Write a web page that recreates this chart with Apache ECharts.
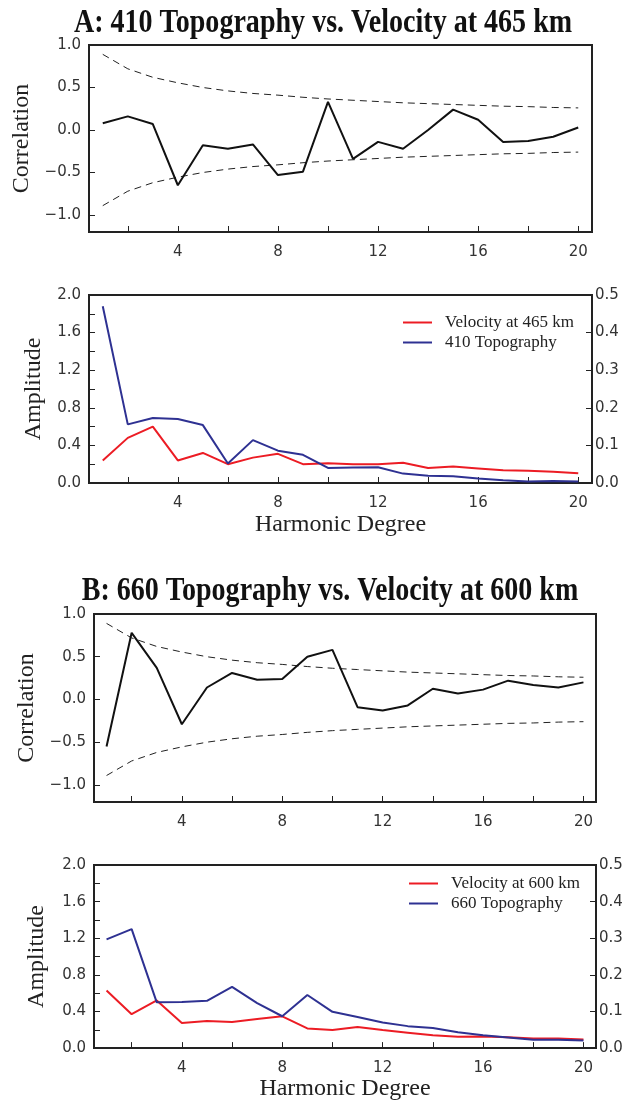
<!DOCTYPE html>
<html>
<head>
<meta charset="utf-8">
<script src="https://cdn.jsdelivr.net/npm/echarts@6/dist/echarts.min.js"></script>
<style>
html,body{margin:0;padding:0;background:#fff;}
#c{width:644px;height:1102px;}
</style>
</head>
<body>
<div id="c"></div>
<script>
// ---- data ----
const degrees = [1,2,3,4,5,6,7,8,9,10,11,12,13,14,15,16,17,18,19,20];
const xTicks = [2,4,6,8,10,12,14,16,18,20];
const xLabels = [4,8,12,16,20];
const corrTicks = [-1.0,-0.5,0.0,0.5,1.0];
const ampLeftTicks = [0,0.2,0.4,0.6,0.8,1.0,1.2,1.4,1.6,1.8,2.0];
const ampLeftLabels = [0,0.4,0.8,1.2,1.6,2.0];

const titleA = 'A: 410 Topography vs. Velocity at 465 km';
const titleB = 'B: 660 Topography vs. Velocity at 600 km';

const corrA = [0.08,0.16,0.07,-0.65,-0.18,-0.22,-0.17,-0.53,-0.49,0.33,-0.34,-0.14,-0.22,0.00,0.24,0.12,-0.14,-0.13,-0.08,0.03];
const corrB = [-0.55,0.78,0.37,-0.29,0.14,0.31,0.23,0.24,0.50,0.58,-0.09,-0.13,-0.07,0.125,0.07,0.115,0.22,0.17,0.14,0.20];
const boundUpper = [0.89,0.72,0.62,0.555,0.50,0.46,0.43,0.41,0.385,0.365,0.35,0.335,0.32,0.31,0.30,0.29,0.28,0.275,0.265,0.26];
const boundLower = [-0.89,-0.72,-0.62,-0.555,-0.50,-0.46,-0.43,-0.41,-0.385,-0.365,-0.35,-0.335,-0.32,-0.31,-0.30,-0.29,-0.28,-0.275,-0.265,-0.26];

const velNameA = 'Velocity at 465 km';
const topoNameA = '410 Topography';
const velA = [0.24,0.48,0.60,0.24,0.32,0.20,0.27,0.31,0.20,0.21,0.20,0.20,0.215,0.16,0.175,0.155,0.135,0.13,0.12,0.105];
const topoA = [0.47,0.156,0.173,0.17,0.154,0.052,0.114,0.086,0.075,0.040,0.041,0.042,0.025,0.019,0.018,0.012,0.007,0.004,0.005,0.004];

const velNameB = 'Velocity at 600 km';
const topoNameB = '660 Topography';
const velB = [0.63,0.37,0.52,0.275,0.297,0.286,0.318,0.347,0.215,0.197,0.23,0.197,0.168,0.14,0.125,0.128,0.118,0.104,0.104,0.093];
const topoB = [0.297,0.325,0.125,0.126,0.129,0.167,0.123,0.087,0.145,0.099,0.085,0.070,0.060,0.055,0.043,0.035,0.029,0.023,0.023,0.021];

// ---- helpers ----
const pairs = (ys) => degrees.map((d, i) => [d, ys[i]]);
const AX = '#222';
const LBL = {fontFamily: 'DejaVu Sans', fontSize: 15, color: '#333'};
const SERIF = '"Liberation Serif", "Times New Roman", serif';
const fmt1 = v => v.toFixed(1).replace('-', '\u2212');

function xAxis(grid, xmin, xmax, showName, nameGap) {
  return {
    type: 'value', gridIndex: grid, min: xmin, max: xmax,
    axisLine: {show: true, onZero: false, lineStyle: {color: AX, width: 2}},
    axisTick: {show: true, inside: true, length: 6, customValues: xTicks, lineStyle: {color: AX, width: 1}},
    axisLabel: Object.assign({customValues: xLabels, margin: 13}, LBL),
    splitLine: {show: false},
    name: showName ? 'Harmonic Degree' : '',
    nameLocation: 'middle', nameGap: nameGap,
    nameTextStyle: {fontFamily: SERIF, fontSize: 24, color: '#222'}
  };
}
function corrY(grid, nameGap) {
  return {
    type: 'value', gridIndex: grid, min: -1.2, max: 1.0,
    axisLine: {show: true, onZero: false, lineStyle: {color: AX, width: 2}},
    axisTick: {show: true, inside: true, length: 6, customValues: corrTicks, lineStyle: {color: AX, width: 1}},
    axisLabel: Object.assign({customValues: corrTicks, margin: 8, formatter: fmt1}, LBL),
    splitLine: {show: false},
    name: 'Correlation', nameLocation: 'middle', nameGap: nameGap,
    nameTextStyle: {fontFamily: SERIF, fontSize: 24, color: '#222'}
  };
}
function ampLeft(grid, nameGap) {
  return {
    type: 'value', gridIndex: grid, min: 0, max: 2.0,
    axisLine: {show: true, onZero: false, lineStyle: {color: AX, width: 2}},
    axisTick: {show: true, inside: true, length: 6, customValues: ampLeftTicks, lineStyle: {color: AX, width: 1}},
    axisLabel: Object.assign({customValues: ampLeftLabels, margin: 8, formatter: fmt1}, LBL),
    splitLine: {show: false},
    name: 'Amplitude', nameLocation: 'middle', nameGap: nameGap,
    nameTextStyle: {fontFamily: SERIF, fontSize: 24, color: '#222'}
  };
}
function ampRight(grid) {
  return {
    type: 'value', gridIndex: grid, min: 0, max: 0.5, interval: 0.1, position: 'right',
    axisLine: {show: true, onZero: false, lineStyle: {color: AX, width: 2}},
    axisTick: {show: true, inside: true, length: 6, lineStyle: {color: AX, width: 1}},
    axisLabel: Object.assign({margin: 3, formatter: fmt1}, LBL),
    splitLine: {show: false}
  };
}
function line(name, xi, yi, ys, color, width, dashed) {
  return {
    name: name, type: 'line', xAxisIndex: xi, yAxisIndex: yi, data: pairs(ys),
    symbol: 'none', silent: true,
    lineStyle: {color: color, width: width, type: dashed ? [7, 5] : 'solid'},
    itemStyle: {color: color}
  };
}
function legend(names, left, top) {
  return {
    data: names, orient: 'vertical', left: left, top: top,
    icon: 'rect', itemWidth: 29, itemHeight: 2, itemGap: 3,
    textStyle: {fontFamily: SERIF, fontSize: 17, lineHeight: 17, color: '#222', padding: [0, 0, 0, 8]},
    selectedMode: false
  };
}
function gridBox(left, top, width, height) {
  return {left: left, top: top, width: width, height: height, show: true,
    borderColor: AX, borderWidth: 2, backgroundColor: 'transparent', containLabel: false};
}
function titleText(text, x, y) {
  return {type: 'text', x: x, y: y, scaleX: 0.85, scaleY: 1,
    style: {text: text, x: 0, y: 0, textAlign: 'center', textVerticalAlign: 'middle',
      fontFamily: SERIF, fontSize: 33, fontWeight: 'bold', fill: '#111'}};
}

const RED = '#ec1c24';
const BLUE = '#2e3192';

const option = {
  animation: false,
  backgroundColor: '#fff',
  graphic: [titleText(titleA, 323, 23), titleText(titleB, 330, 591)],
  grid: [
    gridBox(89, 45, 503, 187),
    gridBox(89, 295, 503, 188),
    gridBox(94, 614, 502, 188),
    gridBox(94, 865, 502, 187)
  ],
  xAxis: [
    xAxis(0, 0.45, 20.55, false, 30),
    xAxis(1, 0.45, 20.55, true, 30),
    xAxis(2, 0.5, 20.5, false, 30),
    xAxis(3, 0.5, 20.5, true, 26)
  ],
  yAxis: [
    corrY(0, 49),
    ampLeft(1, 43), ampRight(1),
    corrY(2, 53),
    ampLeft(3, 45), ampRight(3)
  ],
  legend: [
    legend([velNameA, topoNameA], 398, 309),
    legend([velNameB, topoNameB], 404, 870)
  ],
  series: [
    line('upperA', 0, 0, boundUpper, '#222', 1, true),
    line('lowerA', 0, 0, boundLower, '#222', 1, true),
    line('corrA', 0, 0, corrA, '#111', 2, false),
    line(velNameA, 1, 1, velA, RED, 2, false),
    line(topoNameA, 1, 2, topoA, BLUE, 2, false),
    line('upperB', 2, 3, boundUpper, '#222', 1, true),
    line('lowerB', 2, 3, boundLower, '#222', 1, true),
    line('corrB', 2, 3, corrB, '#111', 2, false),
    line(velNameB, 3, 4, velB, RED, 2, false),
    line(topoNameB, 3, 5, topoB, BLUE, 2, false)
  ]
};

const chart = echarts.init(document.getElementById('c'), null, {renderer: 'canvas'});
chart.setOption(option);
</script>
</body>
</html>
